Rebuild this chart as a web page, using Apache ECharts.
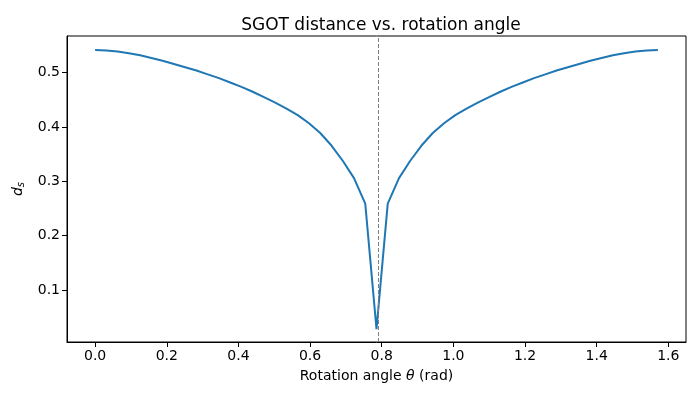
<!DOCTYPE html>
<html>
<head>
<meta charset="utf-8">
<script src="https://cdn.jsdelivr.net/npm/echarts@6/dist/echarts.min.js"></script>
<style>
  html, body { margin: 0; padding: 0; background: #fff; }
  #chart { width: 700px; height: 400px; }
</style>
</head>
<body>
<div id="chart"></div>
<script>
// rotation angle (rad), 0 .. pi/2
var theta = [0, 0.0314, 0.0628, 0.0942, 0.1257, 0.1571, 0.1885, 0.2199, 0.2513, 0.2827,
    0.3142, 0.3456, 0.3770, 0.4084, 0.4398, 0.4712, 0.5027, 0.5341, 0.5655, 0.5969,
    0.6283, 0.6597, 0.6912, 0.7226, 0.7540, 0.7854, 0.8168, 0.8482, 0.8796, 0.9111,
    0.9425, 0.9739, 1.0053, 1.0367, 1.0681, 1.0996, 1.1310, 1.1624, 1.1938, 1.2252,
    1.2566, 1.2881, 1.3195, 1.3509, 1.3823, 1.4137, 1.4451, 1.4765, 1.5080, 1.5394, 1.5708];
// SGOT distance d_s
var dist = [0.542, 0.541, 0.539, 0.536, 0.532, 0.527, 0.522, 0.516, 0.510, 0.504,
    0.497, 0.490, 0.482, 0.474, 0.465, 0.455, 0.445, 0.434, 0.422, 0.407,
    0.389, 0.366, 0.338, 0.306, 0.259, 0.028, 0.259, 0.306, 0.338, 0.366,
    0.389, 0.407, 0.422, 0.434, 0.445, 0.455, 0.465, 0.474, 0.482, 0.490,
    0.497, 0.504, 0.510, 0.516, 0.522, 0.527, 0.532, 0.536, 0.539, 0.541, 0.542];
var xTicks = [0, 0.2, 0.4, 0.6, 0.8, 1.0, 1.2, 1.4, 1.6];
var yTicks = [0.1, 0.2, 0.3, 0.4, 0.5];
var markX = 0.7854;

var font = 'DejaVu Sans';

var points = [];
for (var i = 0; i < theta.length; i++) {
    points.push([theta[i], dist[i]]);
}

var option = {
    animation: false,
    title: {
        text: 'SGOT distance vs. rotation angle',
        left: 376,
        textAlign: 'center',
        top: 12,
        textStyle: { fontFamily: font, fontSize: 17, fontWeight: 'normal', color: '#000' }
    },
    grid: {
        left: 67,
        right: 14,
        top: 36,
        bottom: 58,
        show: true,
        borderColor: '#000',
        borderWidth: 1,
        backgroundColor: '#fff'
    },
    xAxis: {
        type: 'value',
        min: -0.0785,
        max: 1.6493,
        name: 'Rotation angle {i|θ} (rad)',
        nameLocation: 'middle',
        nameGap: 27,
        nameTextStyle: {
            fontFamily: font, fontSize: 14, color: '#000',
            rich: { i: { fontFamily: font, fontStyle: 'italic', fontSize: 14, color: '#000' } }
        },
        splitLine: { show: false },
        axisLine: { show: true, onZero: false, lineStyle: { color: '#000', width: 1 } },
        axisTick: { show: true, inside: false, length: 5, customValues: xTicks, lineStyle: { color: '#000' } },
        axisLabel: {
            customValues: xTicks,
            margin: 7,
            fontFamily: font, fontSize: 14, color: '#000',
            formatter: function (v) { return v.toFixed(1); }
        }
    },
    yAxis: {
        type: 'value',
        min: 0.0044,
        max: 0.5676,
        name: '{i|d}{s|s}',
        nameLocation: 'middle',
        nameGap: 40,
        nameRotate: 90,
        nameTextStyle: {
            rich: {
                i: { fontFamily: font, fontStyle: 'italic', fontSize: 14, color: '#000' },
                s: { fontFamily: font, fontStyle: 'italic', fontSize: 10, color: '#000', padding: [6, 0, 0, 0] }
            }
        },
        splitLine: { show: false },
        axisLine: { show: true, onZero: false, lineStyle: { color: '#000', width: 1 } },
        axisTick: { show: true, inside: false, length: 5, customValues: yTicks, lineStyle: { color: '#000' } },
        axisLabel: {
            customValues: yTicks,
            margin: 7,
            fontFamily: font, fontSize: 14, color: '#000',
            formatter: function (v) { return v.toFixed(1); }
        }
    },
    series: [
        {
            name: 'd_s',
            type: 'line',
            data: points,
            showSymbol: false,
            symbol: 'none',
            lineStyle: { color: '#1f77b4', width: 2 },
            markLine: {
                silent: true,
                symbol: 'none',
                label: { show: false },
                lineStyle: { color: '#808080', type: [4, 2], width: 1 },
                data: [{ xAxis: markX }]
            }
        }
    ]
};

var chart = echarts.init(document.getElementById('chart'));
chart.setOption(option);
</script>
</body>
</html>
